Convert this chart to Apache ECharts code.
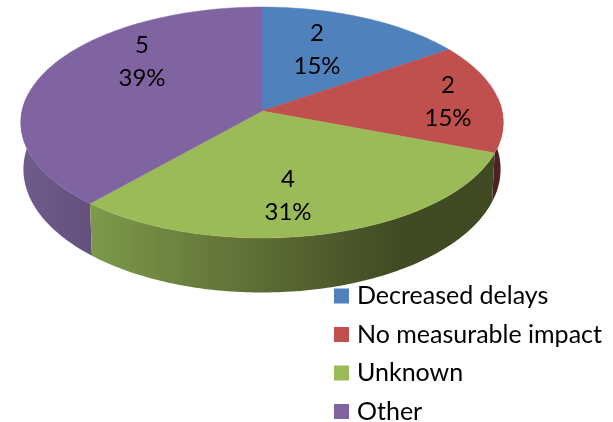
<!DOCTYPE html>
<html>
<head>
<meta charset="utf-8">
<style>html,body{margin:0;padding:0;background:#fff}#chart{width:613px;height:422px}</style>
<script src="https://cdn.jsdelivr.net/npm/echarts@6/dist/echarts.min.js"></script>
</head>
<body>
<div id="chart"></div>
<script>
// Survey outcome counts and the percentages printed beside them
const categories = ['Decreased delays', 'No measurable impact', 'Unknown', 'Other'];
const counts = [2, 2, 4, 5];
const percentLabels = ['15%', '15%', '31%', '39%'];
const colors = ['#4f81bd', '#c0504d', '#9bbb59', '#8064a2'];

// Tilted-disc projection: a top rim and a bottom rim seen in perspective
const FONT = 'Lato, "Open Sans", sans-serif';
const CX = 262, PERSPECTIVE = 0.0996;
const TOP_RIM = { r: 240, y0: 111, b: 114.3 };
const BOTTOM_RIM = { r: 237.4, y0: 157, b: 122 };
const WALL_FROM = 84, WALL_TO = 276;

// Label centres and side-wall shading per slice
const labelAnchors = [[317, 50], [448, 102], [288, 196], [142, 62]];
const wallShades = [
  null,
  [[0, '#4f2120'], [1, '#4f2120']],
  [[0, '#7d9a4a'], [0.3, '#66793b'], [0.55, '#525f2e'], [0.75, '#404b23'], [1, '#3f4a22']],
  [[0, '#705c8a'], [0.5, '#6a5685'], [1, '#64507c']]
];
const wallSpans = [null, [440, 500], [91, 498], [21, 92]];

const total = counts.reduce((a, b) => a + b, 0);
const starts = counts.map((_, i) =>
  counts.slice(0, i).reduce((a, b) => a + b, 0) / total * 360);

function project(rim, deg) {
  const t = deg * Math.PI / 180;
  const u = Math.sin(t), v = -Math.cos(t), d = 1 - PERSPECTIVE * v;
  return [CX + rim.r * u / d, rim.y0 + rim.b * v / d];
}

function arc(rim, from, to) {
  const pts = [];
  const n = Math.max(1, Math.ceil(Math.abs(to - from)));
  for (let i = 0; i <= n; i++) pts.push(project(rim, from + (to - from) * i / n));
  return pts;
}

function renderSlice(index) {
  return function (params, api) {
    const start = starts[index];
    const end = start + api.value(0) / total * 360;
    const children = [];

    const from = Math.max(start, WALL_FROM), to = Math.min(end, WALL_TO);
    if (to > from && wallShades[index]) {
      const span = wallSpans[index];
      children.push({
        type: 'polygon',
        z2: 1 + (index === 2 ? 1 : 0),
        shape: { points: arc(TOP_RIM, from, to).concat(arc(BOTTOM_RIM, to, from)) },
        style: {
          fill: {
            type: 'linear', global: true, x: span[0], y: 0, x2: span[1], y2: 0,
            colorStops: wallShades[index].map(s => ({ offset: s[0], color: s[1] }))
          }
        }
      });
    }

    children.push({
      type: 'polygon',
      z2: 5,
      shape: { points: [[CX, TOP_RIM.y0]].concat(arc(TOP_RIM, start, end)) },
      style: { fill: colors[index], stroke: colors[index], lineWidth: 0.5 }
    });

    children.push({
      type: 'text',
      z2: 10,
      style: {
        x: labelAnchors[index][0],
        y: labelAnchors[index][1],
        text: api.value(0) + '\n' + percentLabels[index],
        align: 'center',
        verticalAlign: 'middle',
        fontFamily: FONT,
        fontSize: 24,
        lineHeight: 33,
        fill: '#000'
      }
    });
    return { type: 'group', children };
  };
}

const chart = echarts.init(document.getElementById('chart'));
chart.setOption({
  animation: false,
  legend: {
    orient: 'vertical',
    left: 334,
    top: 283.5,
    height: 200,
    padding: 0,
    itemWidth: 15,
    itemHeight: 15,
    itemGap: 13.5,
    icon: 'rect',
    selectedMode: false,
    data: categories,
    textStyle: { fontFamily: FONT, fontSize: 25, color: '#000', padding: [0, 0, 0, 3] }
  },
  series: categories.map((name, i) => ({
    type: 'custom',
    name,
    coordinateSystem: 'none',
    silent: true,
    itemStyle: { color: colors[i] },
    data: [[counts[i]]],
    renderItem: renderSlice(i)
  }))
});
</script>
</body>
</html>
